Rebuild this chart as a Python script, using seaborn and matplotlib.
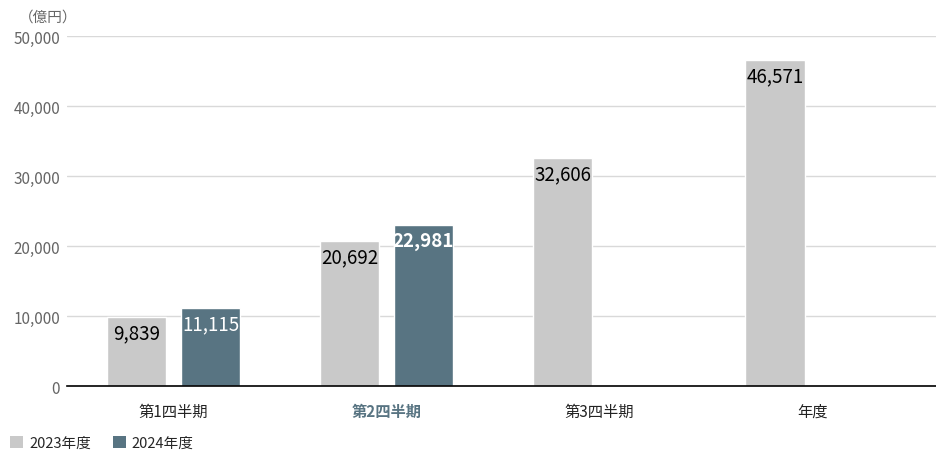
import matplotlib
matplotlib.use("Agg")
import matplotlib.pyplot as plt
import seaborn as sns
import pandas as pd
import numpy as np
from matplotlib.patches import Patch

categories = ["第1四半期", "第2四半期", "第3四半期", "年度"]
series = ["2023年度", "2024年度"]
values_2023 = [9839, 20692, 32606, 46571]
values_2024 = [11115, 22981, np.nan, np.nan]
yticks = [0, 10000, 20000, 30000, 40000, 50000]
unit_label = "（億円）"

colors = {"2023年度": "#c9c9c9", "2024年度": "#587482"}

sns.set_theme(style="white")
plt.rcParams['font.family'] = ['Noto Sans CJK JP', 'DejaVu Sans']

df = pd.DataFrame({
    "category": categories * 2,
    "series": [series[0]] * 4 + [series[1]] * 4,
    "value": values_2023 + values_2024,
})

fig = plt.figure(figsize=(9.36, 4.56), dpi=100)
ax = fig.add_axes([0.0716, 0.1513, 0.9284, 0.7676])

sns.barplot(data=df, x="category", y="value", hue="series", order=categories,
            hue_order=series, palette=colors, width=0.695, gap=0.19,
            saturation=1, ax=ax, legend=False, errorbar=None)

ax.set_ylim(0, 50000)
ax.set_xlim(-0.5, 3.58)
ax.set_yticks(yticks)
ax.set_yticklabels([f"{v:,}" for v in yticks], color="#666666", fontsize=11)
ax.yaxis.grid(True, color="#d9d9d9", linewidth=1)
ax.set_axisbelow(True)
for s in ["top", "right", "left"]:
    ax.spines[s].set_visible(False)
ax.spines["bottom"].set_color("#000000")
ax.spines["bottom"].set_linewidth(1.2)
ax.tick_params(axis="both", length=0)
ax.tick_params(axis="y", pad=5)
ax.tick_params(axis="x", pad=12)
ax.set_xlabel("")
ax.set_ylabel("")

for lbl in ax.get_xticklabels():
    lbl.set_fontsize(11)
    lbl.set_color("#222222")
    if lbl.get_text() == "第2四半期":
        lbl.set_color("#587482")
        lbl.set_fontweight("bold")

# value labels
for container, name in zip(ax.containers, series):
    for bar, v, cat in zip(container, df[df.series == name]["value"], categories):
        if np.isnan(v):
            continue
        x = bar.get_x() + bar.get_width() / 2
        is_2024 = name == "2024年度"
        bold = is_2024 and cat == "第2四半期"
        ax.annotate(f"{int(v):,}", (x, v), xytext=(0, -4), textcoords="offset points",
                    ha="center", va="top", fontsize=13.5,
                    color="white" if is_2024 else "black",
                    fontweight="bold" if bold else "normal")

fig.text(0.02, 0.962, unit_label, fontsize=10.5, color="#666666", ha="left", va="center")

handles = [Patch(facecolor=colors[s], edgecolor="none", label=s) for s in series]
fig.legend(handles=handles, loc="lower left", bbox_to_anchor=(0.0, -0.012), ncol=2,
           frameon=False, fontsize=10.5, handlelength=0.9, handleheight=0.9,
           handletextpad=0.4, columnspacing=1.5, borderaxespad=0.3)

fig.savefig("out.png", dpi=100)
